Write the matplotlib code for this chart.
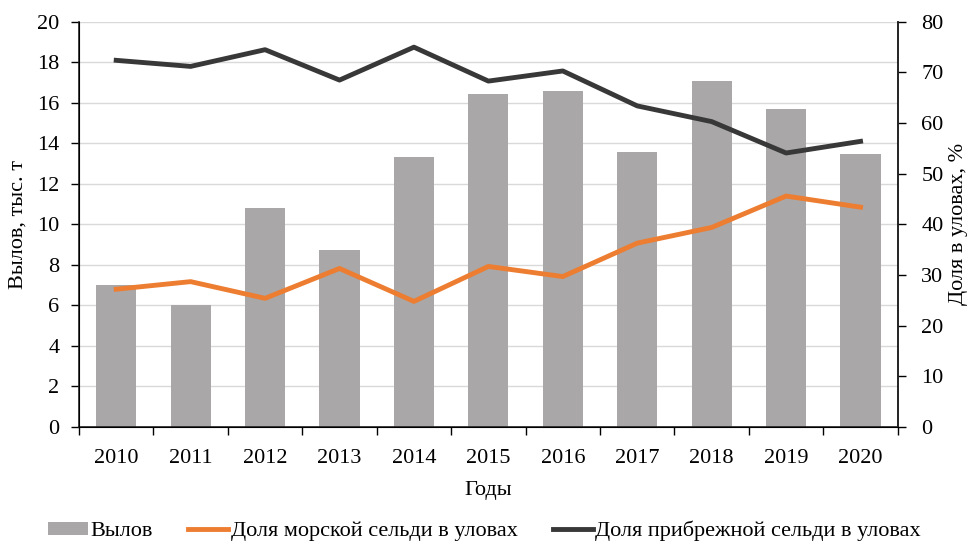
import numpy as np
import matplotlib.pyplot as plt
from matplotlib.lines import Line2D
from matplotlib.patches import Patch

plt.rcParams['font.family'] = ['Liberation Serif', 'DejaVu Serif']

years = [2010, 2011, 2012, 2013, 2014, 2015, 2016, 2017, 2018, 2019, 2020]
catch = [7.0, 6.0, 10.8, 8.75, 13.35, 16.45, 16.6, 13.55, 17.1, 15.7, 13.5]
share_sea = [27.2, 28.7, 25.4, 31.3, 24.8, 31.7, 29.7, 36.3, 39.4, 45.6, 43.4]
share_coast = [72.4, 71.2, 74.5, 68.5, 75.0, 68.3, 70.3, 63.4, 60.3, 54.1, 56.4]

BAR = '#a9a7a7'
ORANGE = '#ed7d31'
DARK = '#383838'
FS = 16

fig = plt.figure(figsize=(9.69, 5.46), dpi=100)
ax = fig.add_axes([0.0815, 0.218, 0.845, 0.742])
x = np.arange(len(years))

ax.bar(x, catch, width=0.54, color=BAR, zorder=2)
ax.set_ylim(0, 20)
ax.set_yticks(np.arange(0, 21, 2))
ax.set_xlim(-0.5, len(years) - 0.5)
ax.grid(axis='y', color='#d9d9d9', linewidth=1, zorder=0)
ax.set_axisbelow(True)

# category ticks between the bars
ax.set_xticks(x)
ax.set_xticklabels(years)
ax.set_xticks(np.arange(-0.5, len(years)), minor=True)
ax.tick_params(axis='x', which='major', length=0, pad=16, labelsize=FS)
ax.tick_params(axis='x', which='minor', length=6, width=1, direction='out')
ax.tick_params(axis='y', length=6, width=1, direction='out', labelsize=FS, pad=8)
ax.spines['top'].set_visible(False)
for s in ['left', 'bottom', 'right']:
    ax.spines[s].set_color('#222222')
    ax.spines[s].set_linewidth(1.2)

ax.set_ylabel('Вылов, тыс. т', fontsize=FS, labelpad=7)
ax.set_xlabel('Годы', fontsize=FS, labelpad=9)

ax2 = ax.twinx()
ax2.plot(x, share_sea, color=ORANGE, linewidth=3.5, zorder=3)
ax2.plot(x, share_coast, color=DARK, linewidth=3.5, zorder=3)
ax2.set_ylim(0, 80)
ax2.set_yticks(np.arange(0, 81, 10))
ax2.tick_params(axis='y', length=6, width=1, direction='out', labelsize=FS, pad=11)
ax2.spines['top'].set_visible(False)
ax2.spines['right'].set_color('#222222')
ax2.spines['right'].set_linewidth(1.2)
ax2.set_ylabel('Доля в уловах, %', fontsize=FS, labelpad=4)

handles = [
    Patch(facecolor=BAR, edgecolor='none'),
    Line2D([0], [0], color=ORANGE, linewidth=3.5),
    Line2D([0], [0], color=DARK, linewidth=3.5),
]
labels = ['Вылов', 'Доля морской сельди в уловах', 'Доля прибрежной сельди в уловах']
fig.legend(handles, labels, loc='lower center', bbox_to_anchor=(0.5, -0.028),
           ncol=3, frameon=False, fontsize=FS, handlelength=1.8, handleheight=0.55,
           handletextpad=0.1, columnspacing=1.6)

fig.savefig('out.png', dpi=100)
